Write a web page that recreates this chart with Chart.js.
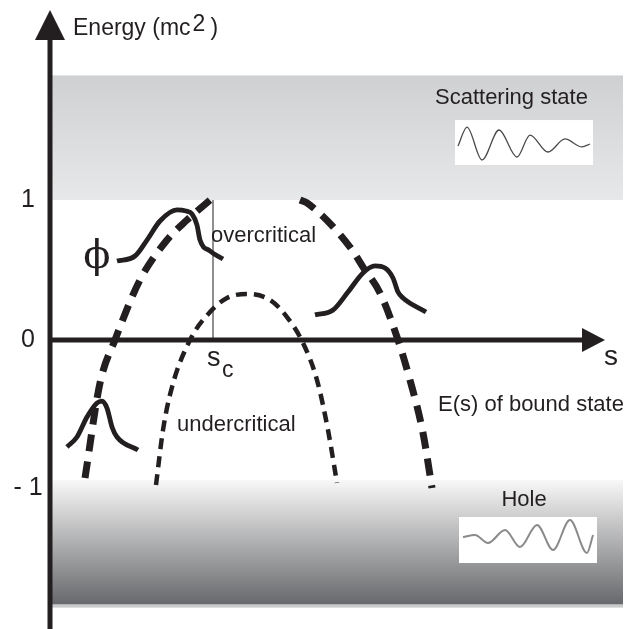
<!DOCTYPE html>
<html>
<head>
<meta charset="utf-8">
<script src="https://cdn.jsdelivr.net/npm/chart.js@4/dist/chart.umd.min.js"></script>
<style>
  body { margin: 0; background: #fff; }
  #wrap { width: 634px; height: 629px; position: relative; }
</style>
</head>
<body>
<div id="wrap"><canvas id="energyChart"></canvas></div>
<script>
// s axis runs 0..5.8, energy axis in units of mc^2
const overLeft = [[0.35,-0.986],[0.50,-0.307],[0.65,0],[0.90,0.429],[1.17,0.714],[1.37,0.857],[1.60,1.0]];
const overRight = [[2.50,1.0],[2.57,0.979],[3.00,0.664],[3.13,0.521],[3.30,0.336],[3.48,0],[3.60,-0.286],[3.73,-0.664],[3.82,-1.057]];
const underCurve = [[1.06,-1.036],[1.13,-0.643],[1.22,-0.336],[1.40,0],[1.60,0.2],[1.77,0.3],[1.97,0.329],[2.20,0.286],[2.37,0.164],[2.53,-0.021],[2.67,-0.286],[2.78,-0.643],[2.87,-1.021]];

// wave packets phi riding on the bound-state curves
const phiA = [[0.67,0.564],[0.85,0.60],[0.97,0.714],[1.10,0.85],[1.27,0.929],[1.36,0.921],[1.42,0.90],[1.47,0.821],[1.50,0.714],[1.60,0.636],[1.73,0.579]];
const phiB = [[2.65,0.179],[2.83,0.214],[2.98,0.343],[3.13,0.479],[3.25,0.529],[3.35,0.514],[3.43,0.443],[3.48,0.343],[3.53,0.30],[3.76,0.20]];
const phiC = [[0.17,-0.764],[0.27,-0.693],[0.37,-0.55],[0.47,-0.45],[0.52,-0.436],[0.57,-0.486],[0.62,-0.621],[0.67,-0.693],[0.88,-0.786]];

// little wave sketches in the two insets
const scatterWave = [[4.08,1.386],[4.17,1.521],[4.32,1.286],[4.49,1.50],[4.67,1.307],[4.80,1.464],[4.98,1.343],[5.15,1.436],[5.32,1.379],[5.40,1.40]];
const holeWave = [[4.13,-1.407],[4.25,-1.393],[4.38,-1.45],[4.55,-1.357],[4.70,-1.479],[4.87,-1.321],[5.03,-1.50],[5.20,-1.286],[5.37,-1.521],[5.43,-1.393]];

const tickValues = [1, 0, -1];
const tickLabels = ['1', '0', '- 1'];
const sCritical = 1.63;

function pts(arr) { return arr.map(p => ({x: p[0], y: p[1]})); }

function line(data, width, color, dash) {
    return {
        data: pts(data),
        borderColor: color,
        borderWidth: width,
        borderDash: dash || [],
        pointRadius: 0,
        fill: false,
        cubicInterpolationMode: 'monotone',
        borderCapStyle: 'butt'
    };
}

const drawing = {
    id: 'drawing',
    beforeDatasetsDraw(chart) {
        const ctx = chart.ctx, x = chart.scales.x, y = chart.scales.y;
        const left = x.getPixelForValue(0.02), right = x.getPixelForValue(5.73);
        ctx.save();
        // scattering continuum E > 1
        let t = y.getPixelForValue(1.89), b = y.getPixelForValue(1);
        let g = ctx.createLinearGradient(0, t, 0, b);
        g.addColorStop(0, '#cfd0d2');
        g.addColorStop(1, '#e7e8e9');
        ctx.fillStyle = g;
        ctx.fillRect(left, t, right - left, b - t);
        // hole continuum E < -1
        t = y.getPixelForValue(-1); b = y.getPixelForValue(-1.89);
        g = ctx.createLinearGradient(0, t, 0, b);
        g.addColorStop(0, '#f8f8f8');
        g.addColorStop(1, '#67686b');
        ctx.fillStyle = g;
        ctx.fillRect(left, t, right - left, b - t);
        ctx.fillStyle = '#c9cacb';
        ctx.fillRect(left, b, right - left, 3);
        // inset boxes
        ctx.fillStyle = '#ffffff';
        let bx = x.getPixelForValue(4.05), by = y.getPixelForValue(1.571);
        ctx.fillRect(bx, by, x.getPixelForValue(5.43) - bx, y.getPixelForValue(1.25) - by);
        bx = x.getPixelForValue(4.09); by = y.getPixelForValue(-1.264);
        ctx.fillRect(bx, by, x.getPixelForValue(5.47) - bx, y.getPixelForValue(-1.593) - by);
        ctx.restore();
    },
    afterDatasetsDraw(chart) {
        const ctx = chart.ctx, x = chart.scales.x, y = chart.scales.y;
        const x0 = x.getPixelForValue(0), y0 = y.getPixelForValue(0);
        ctx.save();
        ctx.fillStyle = '#231f20';
        ctx.strokeStyle = '#231f20';
        // s_c marker
        ctx.lineWidth = 1;
        ctx.beginPath();
        ctx.moveTo(x.getPixelForValue(sCritical), y.getPixelForValue(1));
        ctx.lineTo(x.getPixelForValue(sCritical), y0);
        ctx.stroke();
        // energy axis
        ctx.lineWidth = 5;
        ctx.beginPath();
        ctx.moveTo(x0, chart.height);
        ctx.lineTo(x0, y.getPixelForValue(2.16));
        ctx.stroke();
        ctx.beginPath();
        ctx.moveTo(x0, y.getPixelForValue(2.357));
        ctx.lineTo(x0 - 15, y.getPixelForValue(2.143));
        ctx.lineTo(x0 + 15, y.getPixelForValue(2.143));
        ctx.closePath();
        ctx.fill();
        // s axis
        ctx.beginPath();
        ctx.moveTo(x0, y0);
        ctx.lineTo(x.getPixelForValue(5.34), y0);
        ctx.stroke();
        ctx.beginPath();
        ctx.moveTo(x.getPixelForValue(5.55), y0);
        ctx.lineTo(x.getPixelForValue(5.32), y0 - 12);
        ctx.lineTo(x.getPixelForValue(5.32), y0 + 12);
        ctx.closePath();
        ctx.fill();

        // tick labels
        ctx.font = '25px "Liberation Sans", Arial, sans-serif';
        ctx.textAlign = 'center';
        ctx.textBaseline = 'middle';
        tickValues.forEach((v, i) => {
            ctx.fillText(tickLabels[i], 28, y.getPixelForValue(v) + (v < 0 ? 8 : 0));
        });

        ctx.textAlign = 'left';
        ctx.font = '23px "Liberation Sans", Arial, sans-serif';
        const ex = 73, ey = 29;
        ctx.fillText('Energy (mc', ex, ey);
        const w = ctx.measureText('Energy (mc').width;
        ctx.font = '23px "Liberation Sans", Arial, sans-serif';
        ctx.fillText('2', ex + w + 2, ey - 4);
        ctx.fillText(')', ex + w + 20, ey);

        ctx.font = '22px "Liberation Sans", Arial, sans-serif';
        ctx.fillText('overcritical', x.getPixelForValue(1.61), y.getPixelForValue(0.743));
        ctx.fillText('undercritical', x.getPixelForValue(1.27), y.getPixelForValue(-0.607));
        ctx.fillText('E(s) of bound state', x.getPixelForValue(3.88), y.getPixelForValue(-0.464));
        ctx.fillText('Scattering state', x.getPixelForValue(3.85), y.getPixelForValue(1.729));
        ctx.textAlign = 'center';
        ctx.fillText('Hole', x.getPixelForValue(4.74), y.getPixelForValue(-1.143));

        ctx.font = '28px "Liberation Sans", Arial, sans-serif';
        ctx.fillText('s', x.getPixelForValue(5.61), y.getPixelForValue(-0.121));
        ctx.textAlign = 'left';
        ctx.font = '27px "Liberation Sans", Arial, sans-serif';
        ctx.fillText('s', x.getPixelForValue(1.57), y.getPixelForValue(-0.129));
        ctx.font = '23px "Liberation Sans", Arial, sans-serif';
        ctx.fillText('c', x.getPixelForValue(1.72), y.getPixelForValue(-0.221));

        ctx.textAlign = 'center';
        ctx.font = '40px "DejaVu Serif", serif';
        ctx.fillText('\u03D5', x.getPixelForValue(0.47), y.getPixelForValue(0.586));
        ctx.restore();
    }
};

new Chart(document.getElementById('energyChart'), {
    type: 'line',
    data: {
        datasets: [
            line(overLeft, 7, '#231f20', [17, 10]),
            line(overRight, 7, '#231f20', [17, 10]),
            line(underCurve, 4.5, '#231f20', [11, 7]),
            line(phiA, 4.8, '#231f20'),
            line(phiB, 4.8, '#231f20'),
            line(phiC, 4.8, '#231f20'),
            line(scatterWave, 1.3, '#4a4a4a'),
            line(holeWave, 2, '#8a8a8a')
        ]
    },
    options: {
        responsive: true,
        maintainAspectRatio: false,
        animation: false,
        layout: { padding: { left: 50, right: 4, top: 4, bottom: 2 } },
        plugins: { legend: { display: false }, tooltip: { enabled: false } },
        scales: {
            x: { type: 'linear', min: 0, max: 5.8, display: false },
            y: { type: 'linear', min: -2.05, max: 2.4, display: false }
        }
    },
    plugins: [drawing]
});
</script>
</body>
</html>
